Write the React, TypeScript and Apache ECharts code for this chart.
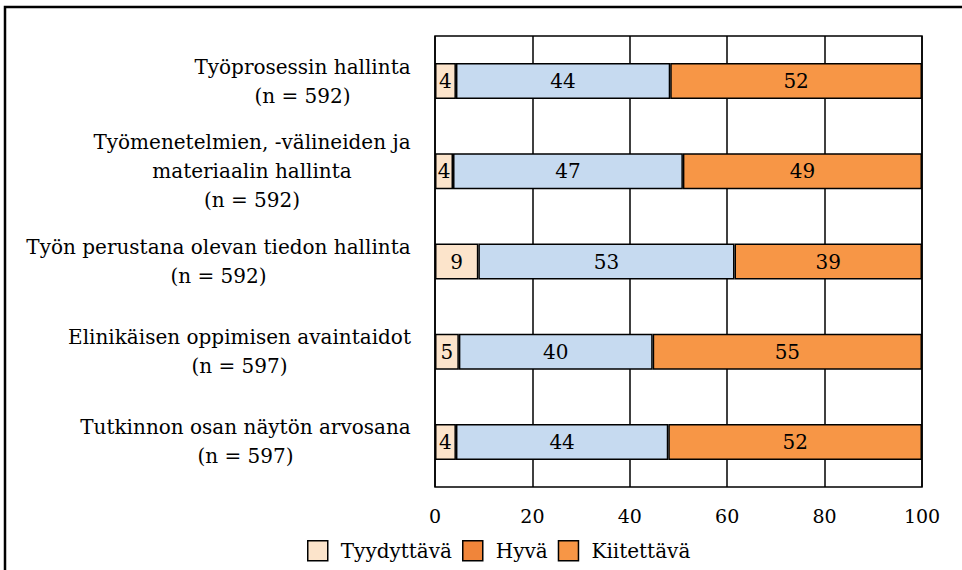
import React, { useEffect, useRef } from "react";
import * as echarts from "echarts";

const categories = [
  "Työprosessin hallinta\n(n = 592)",
  "Työmenetelmien, -välineiden ja\nmateriaalin hallinta\n(n = 592)",
  "Työn perustana olevan tiedon hallinta\n(n = 592)",
  "Elinikäisen oppimisen avaintaidot\n(n = 597)",
  "Tutkinnon osan näytön arvosana\n(n = 597)",
];
const seriesNames = ["Tyydyttävä", "Hyvä", "Kiitettävä"];
const tyydyttava = [4.3, 3.7, 8.9, 4.9, 4.3];
const hyva = [44.0, 47.2, 52.6, 39.8, 43.6];
const kiitettava = [51.7, 49.1, 38.5, 55.3, 52.1];
const xTicks = [0, 20, 40, 60, 80, 100];

const FONT = "'DejaVu Serif', 'Liberation Serif', serif";
const FS = 20;

export default function App() {
  const ref = useRef<HTMLDivElement>(null);
  useEffect(() => {
    if (!ref.current) return;
    const chart = echarts.init(ref.current, undefined, { renderer: "svg" });
    const canvas = document.createElement("canvas");
    const ctx = canvas.getContext("2d")!;
    ctx.font = `${FS}px ${FONT}`;
    const rich: Record<string, any> = {};
    categories.forEach((c, i) => {
      const w = Math.max(...c.split("\n").map((l) => ctx.measureText(l).width));
      rich["c" + i] = {
        width: Math.ceil(w) + 2,
        align: "center",
        fontSize: FS,
        fontFamily: FONT,
        color: "#000",
        lineHeight: 29,
      };
    });
    const labelStyle = {
      show: true,
      position: "inside",
      color: "#000",
      fontFamily: FONT,
      fontSize: FS,
      formatter: (p: any) => String(Math.round(p.value)),
    };
    const barBase = {
      type: "bar",
      stack: "total",
      barWidth: 36,
      label: labelStyle,
      emphasis: { disabled: true },
    };
    chart.setOption({
      animation: false,
      textStyle: { fontFamily: FONT },
      graphic: [
        {
          type: "rect",
          shape: { x: 5, y: 7, width: 1000, height: 1000 },
          style: { fill: "none", stroke: "#000", lineWidth: 2.5 },
          silent: true,
          z: 100,
        },
      ],
      grid: {
        left: 435,
        top: 36,
        right: 40,
        bottom: 83,
        show: true,
        borderColor: "#000",
        borderWidth: 1.5,
        backgroundColor: "transparent",
      },
      legend: {
        left: 302,
        top: 535,
        itemWidth: 20,
        itemHeight: 20,
        itemGap: 10,
        icon: "rect",
        textStyle: { fontFamily: FONT, fontSize: FS, color: "#000", padding: [0, 0, 0, 8] },
        data: [
          { name: seriesNames[0], itemStyle: { color: "#FCE4CB", borderColor: "#000", borderWidth: 1.5 } },
          { name: seriesNames[1], itemStyle: { color: "#F0853A", borderColor: "#000", borderWidth: 1.5 } },
          { name: seriesNames[2], itemStyle: { color: "#F79646", borderColor: "#000", borderWidth: 1.5 } },
        ],
      },
      xAxis: {
        type: "value",
        min: 0,
        max: 100,
        interval: 20,
        axisLine: { show: false },
        axisTick: { show: false },
        splitLine: { show: true, lineStyle: { color: "#000", width: 1.5 } },
        axisLabel: {
          margin: 19,
          fontFamily: FONT,
          fontSize: 19,
          color: "#000",
          formatter: (v: number) => (xTicks.includes(v) ? String(v) : ""),
        },
      },
      yAxis: {
        type: "category",
        inverse: true,
        data: categories,
        axisLine: { show: false },
        axisTick: { show: false },
        splitLine: { show: false },
        axisLabel: {
          margin: 23,
          fontFamily: FONT,
          fontSize: FS,
          color: "#000",
          formatter: (v: string) => {
            const i = categories.indexOf(v);
            return v
              .split("\n")
              .map((l) => `{c${i}|${l}}`)
              .join("\n");
          },
          rich,
        },
      },
      series: [
        {
          ...barBase,
          name: seriesNames[0],
          data: tyydyttava,
          itemStyle: { color: "#FCE4CB", borderColor: "#000", borderWidth: 1.5 },
        },
        {
          ...barBase,
          name: seriesNames[1],
          data: hyva,
          itemStyle: { color: "#C6DAF0", borderColor: "#000", borderWidth: 1.5 },
        },
        {
          ...barBase,
          name: seriesNames[2],
          data: kiitettava,
          itemStyle: { color: "#F79646", borderColor: "#000", borderWidth: 1.5 },
        },
      ],
    });
    return () => chart.dispose();
  }, []);
  return (
    <div
      ref={ref}
      style={{ position: "absolute", left: 0, top: 0, width: 962, height: 570, background: "#fff" }}
    />
  );
}
